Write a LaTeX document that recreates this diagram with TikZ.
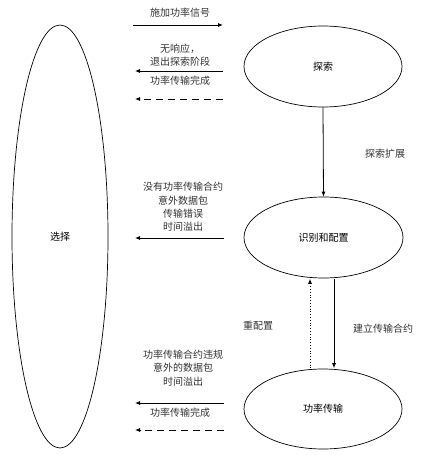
\documentclass[tikz,border=0pt]{standalone}
\usepackage{fontspec}
\setmainfont{Noto Sans CJK SC}
\usetikzlibrary{shapes.geometric,arrows.meta}
\begin{document}
\begin{tikzpicture}[x=1pt,y=-1pt,
  state/.style={draw,ellipse,line width=0.7pt,inner sep=0pt,font=\fontsize{10}{12}\selectfont},
  lbl/.style={font=\fontsize{10}{13.5}\selectfont,text=black!80,align=center,inner sep=0pt},
  arr/.style={line width=0.8pt,-{Latex[length=5pt,width=4pt]}},
  darr/.style={arr,dash pattern=on 7pt off 5pt},
  tarr/.style={arr,dotted}]
\useasboundingbox (0,0) rectangle (429,455);
\node[state,minimum width=96pt,minimum height=423pt] (sel) at (60,236.5) {选择};
\node[state,minimum width=158pt,minimum height=81pt] (exp) at (323,66.5) {探索};
\node[state,minimum width=159pt,minimum height=81pt] (cfg) at (323.5,237.5) {识别和配置};
\node[state,minimum width=158pt,minimum height=80pt] (pwr) at (323,409) {功率传输};
% horizontal arrows
\coordinate (a1l) at (133,25);  \coordinate (a1r) at (223,25);
\coordinate (a2l) at (135,71);  \coordinate (a2r) at (223,71);
\coordinate (a3l) at (135,99);  \coordinate (a3r) at (223,99);
\coordinate (a4l) at (135,238); \coordinate (a4r) at (224,238);
\coordinate (a5l) at (135,403); \coordinate (a5r) at (224,403);
\coordinate (a6l) at (135,430); \coordinate (a6r) at (224,430);
\draw[arr] (a1l) -- (a1r);
\draw[arr] (a2r) -- (a2l);
\draw[darr] (a3r) -- (a3l);
\draw[arr] (a4r) -- (a4l);
\draw[arr] (a5r) -- (a5l);
\draw[darr] (a6r) -- (a6l);
\node[lbl] (t1) at (180,13) {施加功率信号};
\node[lbl] (t2) at (180,55) {无响应，\\退出探索阶段};
\node[lbl] (t3) at (180,81) {功率传输完成};
\node[lbl,font=\fontsize{10}{13.3}\selectfont] (t4) at (183,207) {没有功率传输合约\\意外数据包\\传输错误\\时间溢出};
\node[lbl] (t5) at (183,368) {功率传输合约违规\\意外的数据包\\时间溢出};
\node[lbl] (t6) at (180,413) {功率传输完成};
% vertical arrows
\draw[arr] (exp.south) -- (cfg.north);
\draw[tarr] ([xshift=-13pt,yshift=0.5pt]pwr.north) -- ([xshift=-13.5pt,yshift=-0.5pt]cfg.south);
\draw[arr] ([xshift=10.5pt,yshift=-0.5pt]cfg.south) -- ([xshift=11pt,yshift=0.5pt]pwr.north);
\node[lbl] (t7) at (385,154) {探索扩展};
\node[lbl] (t8) at (258,326) {重配置};
\node[lbl] (t9) at (383,329) {建立传输合约};
\end{tikzpicture}
\end{document}
